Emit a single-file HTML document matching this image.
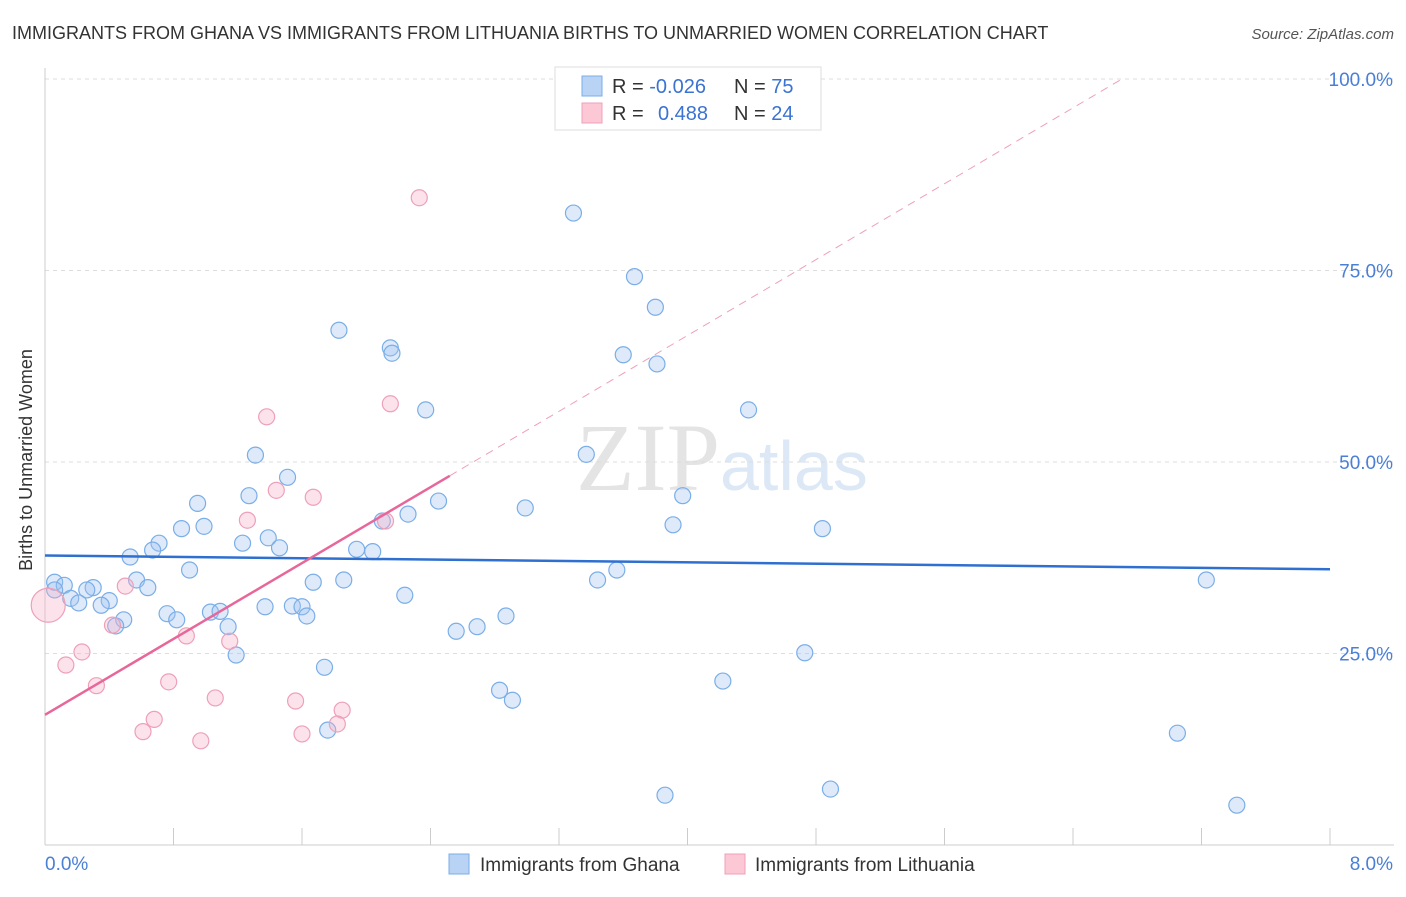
<!DOCTYPE html>
<html><head><meta charset="utf-8"><style>
body{margin:0;background:#fff;font-family:"Liberation Sans",sans-serif;}
</style></head><body>
<svg id="chart" width="1406" height="892" xmlns="http://www.w3.org/2000/svg" font-family="Liberation Sans, sans-serif">
<text x="12" y="39" font-size="18" fill="#333">IMMIGRANTS FROM GHANA VS IMMIGRANTS FROM LITHUANIA BIRTHS TO UNMARRIED WOMEN CORRELATION CHART</text>
<text x="1394" y="39" font-size="15" fill="#555" text-anchor="end" font-style="italic">Source: ZipAtlas.com</text>
<text x="720" y="490" font-size="96" fill="#e4e4e4" text-anchor="end" font-family="Liberation Serif, serif">ZIP</text>
<text x="720" y="490" font-size="70" fill="#dce8f6">atlas</text>
<g id="grid"></g><g id="axes"></g><g id="marks"></g>
<text x="32" y="460" font-size="18" fill="#333" text-anchor="middle" transform="rotate(-90 32 460)">Births to Unmarried Women</text>
<g>
<rect x="555" y="67" width="266" height="63" fill="#fff" stroke="#ddd"/>
<rect x="582" y="76" width="20" height="20" fill="#b8d3f4" stroke="#7aaee8"/>
<rect x="582" y="103" width="20" height="20" fill="#fcc8d6" stroke="#eea0b8"/>
<text x="612" y="93" font-size="20" fill="#333">R = <tspan fill="#3a73d2">-0.026</tspan></text>
<text x="734" y="93" font-size="20" fill="#333">N = <tspan fill="#3a73d2">75</tspan></text>
<text x="612" y="120" font-size="20" fill="#333">R = </text><text x="658" y="120" font-size="20" fill="#3a73d2">0.488</text>
<text x="734" y="120" font-size="20" fill="#333">N = <tspan fill="#3a73d2">24</tspan></text>
</g>
<g>
<rect x="449" y="854" width="20" height="20" fill="#b8d3f4" stroke="#7aaee8"/>
<text x="480" y="871" font-size="19" fill="#333">Immigrants from Ghana</text>
<rect x="725" y="854" width="20" height="20" fill="#fcc8d6" stroke="#eea0b8"/>
<text x="755" y="871" font-size="19" fill="#333">Immigrants from Lithuania</text>
</g>
</svg>
<script>
const ghanaX=[3.29,3.67,3.80,1.83,2.15,2.16,3.60,3.81,2.37,4.38,3.37,1.31,1.51,1.27,3.97,0.95,2.45,2.99,2.26,2.10,3.91,4.84,0.85,0.99,1.23,1.39,1.46,0.71,0.67,1.94,2.04,0.53,0.90,3.56,3.44,7.23,1.86,1.67,0.57,0.06,0.12,0.30,0.26,0.64,0.06,2.24,0.16,0.21,0.40,0.35,1.37,1.54,1.60,0.76,1.03,1.09,1.63,2.87,0.82,0.49,0.44,1.14,2.69,2.56,1.19,4.73,1.74,2.83,2.91,4.22,1.76,7.05,3.86,4.89,7.42];
const ghanaY=[82.5,74.2,70.2,67.2,64.9,64.2,64.0,62.8,56.8,56.8,51.0,50.9,48.0,45.6,45.6,44.6,44.9,44.0,43.2,42.3,41.8,41.3,41.3,41.6,39.4,40.1,38.8,39.4,38.5,38.6,38.3,37.6,35.9,35.9,34.6,34.6,34.6,34.3,34.6,34.3,33.9,33.6,33.3,33.6,33.3,32.6,32.2,31.6,31.9,31.3,31.1,31.2,31.1,30.2,30.4,30.5,29.9,29.9,29.4,29.4,28.6,28.5,28.5,27.9,24.8,25.1,23.2,20.2,18.9,21.4,15.0,14.6,6.5,7.3,5.2];
const lithX=[2.33,1.38,2.15,1.44,1.67,1.26,2.12,0.50,0.02,0.42,0.88,0.23,1.15,0.13,0.32,0.77,1.06,1.56,1.85,0.68,1.82,0.61,1.60,0.97];
const lithY=[84.5,55.9,57.6,46.3,45.4,42.4,42.3,33.8,31.3,28.7,27.3,25.2,26.6,23.5,20.8,21.3,19.2,18.8,17.6,16.4,15.8,14.8,14.5,13.6];
const ghanaFit=[37.8,36.0];
const lithFit=[17.0,12.38];
const yTicks=[25,50,75,100];
const yTickLabels=["25.0%","50.0%","75.0%","100.0%"];
const xTicks=[0,0.8,1.6,2.4,3.2,4.0,4.8,5.6,6.4,7.2,8.0];
const NS="http://www.w3.org/2000/svg";
const sx=v=>45+v/8*1285, sy=v=>845-v/100*766;
function mk(tag,attrs,parent){const e=document.createElementNS(NS,tag);for(const k in attrs)e.setAttribute(k,attrs[k]);document.getElementById(parent).appendChild(e);return e;}
yTicks.forEach((t,i)=>{
 const g=mk('line',{x1:45,x2:1394,y1:sy(t),y2:sy(t),stroke:'#ddd','stroke-dasharray':'4,4'},'grid');
 
 
 const l=mk('text',{x:1393,y:sy(t)+7,'font-size':19,fill:'#4a7fd6','text-anchor':'end'},'axes');
 l.textContent=yTickLabels[i];
 
 
});
const ya=mk('line',{x1:45,x2:45,y1:68,y2:845,stroke:'#ccc'},'axes');


const xa=mk('line',{x1:45,x2:1394,y1:845,y2:845,stroke:'#ccc'},'axes');


xTicks.forEach(t=>{
 const k=mk('line',{x1:sx(t),x2:sx(t),y1:828,y2:845,stroke:'#ccc'},'axes');
 
 
});
const x0=mk('text',{x:45,y:870,'font-size':19,fill:'#4a7fd6'},'axes');x0.textContent='0.0%';


const x1=mk('text',{x:1393,y:870,'font-size':19,fill:'#4a7fd6','text-anchor':'end'},'axes');x1.textContent='8.0%';


ghanaX.forEach((x,i)=>{
 const c=mk('circle',{cx:sx(x),cy:sy(ghanaY[i]),r:8,fill:'rgba(160,196,240,0.35)',stroke:'#7aaee8','stroke-width':1.2},'marks');
 
 
});
lithX.forEach((x,i)=>{
 const c=mk('circle',{cx:sx(x),cy:sy(lithY[i]),r:i==8?17:8,fill:'rgba(245,175,198,0.35)',stroke:'#eea0b8','stroke-width':1.2},'marks');
 
 
});
const bl=mk('line',{x1:sx(0),y1:sy(ghanaFit[0]),x2:sx(8),y2:sy(ghanaFit[1]),stroke:'#2f6fd0','stroke-width':2.5},'marks');


const xe=2.52, xd=(100-lithFit[0])/lithFit[1];
const pl=mk('line',{x1:sx(0),y1:sy(lithFit[0]),x2:sx(xe),y2:sy(lithFit[0]+lithFit[1]*xe),stroke:'#e8679a','stroke-width':2.5},'marks');


const pd=mk('line',{x1:sx(xe),y1:sy(lithFit[0]+lithFit[1]*xe),x2:sx(xd),y2:sy(100),stroke:'#eea0b8','stroke-width':1,'stroke-dasharray':'8,6'},'marks');


</script>
</body></html>
